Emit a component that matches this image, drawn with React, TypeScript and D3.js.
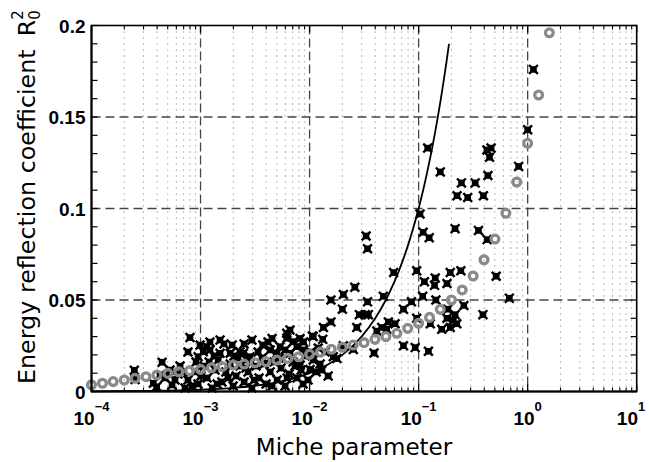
import React from "react";
import * as d3 from "d3";

// Gray circles (model): Miche parameter vs R0^2
const circleMiche = [
  1e-4, 1.26e-4, 1.58e-4, 2.0e-4, 2.51e-4, 3.16e-4, 3.98e-4, 5.01e-4, 6.31e-4, 7.94e-4,
  1e-3, 1.26e-3, 1.58e-3, 2.0e-3, 2.51e-3, 3.16e-3, 3.98e-3, 5.01e-3, 6.31e-3, 7.94e-3,
  1e-2, 1.26e-2, 1.58e-2, 2.0e-2, 2.51e-2, 3.16e-2, 3.98e-2, 5.01e-2, 6.31e-2, 7.94e-2,
  0.1, 0.126, 0.158, 0.2, 0.251, 0.316, 0.398, 0.501, 0.631, 0.794,
  1.0, 1.26, 1.58,
];
const circleR2 = [
  0.0036, 0.0045, 0.0054, 0.0063, 0.0072, 0.0081, 0.009, 0.0099, 0.0108, 0.0114,
  0.0121, 0.013, 0.0136, 0.0145, 0.015, 0.0157, 0.0163, 0.0172, 0.0181, 0.019,
  0.0203, 0.0215, 0.0231, 0.0242, 0.0254, 0.0267, 0.0285, 0.03, 0.0318, 0.0345,
  0.0373, 0.0405, 0.0449, 0.05, 0.0555, 0.0631, 0.072, 0.0833, 0.0974, 0.1145,
  0.1356, 0.162, 0.196,
];

// Solid curve
const curveMiche = [1e-4, 3e-4, 1e-3, 2e-3, 3e-3, 5e-3, 7e-3, 0.01, 0.015, 0.02, 0.03, 0.04, 0.05, 0.06, 0.07, 0.08, 0.09, 0.1, 0.11, 0.12, 0.13, 0.14, 0.15, 0.16, 0.17, 0.18, 0.19];
const curveR2 = [1e-4, 3e-4, 1e-3, 2e-3, 3e-3, 5e-3, 7e-3, 0.01, 0.015, 0.02, 0.03, 0.04, 0.05, 0.06, 0.07, 0.08, 0.09, 0.1, 0.11, 0.12, 0.13, 0.14, 0.15, 0.16, 0.17, 0.18, 0.19];

// Black measured points
const obsMiche = [
  1.13, 1.0, 0.121, 0.158, 0.423, 0.462, 0.447, 0.826, 0.247, 0.33,
  0.432, 0.225, 0.282, 0.393, 0.103, 0.216, 0.354, 0.11, 0.125, 0.425,
  0.033, 0.034, 0.059, 0.096, 0.195, 0.244, 0.113, 0.142, 0.14, 0.182,
  0.514, 0.026, 0.0204, 0.0475, 0.0157, 0.034, 0.086, 0.109, 0.144, 0.26,
  0.679, 0.389, 0.02, 0.0726, 0.0286, 0.0323, 0.0346, 0.185, 0.216, 0.182,
  0.208, 0.224, 0.195, 0.163, 0.096, 0.128, 0.0157, 0.0134, 0.0271, 0.0108,
  0.0132, 0.0088, 0.0459, 0.0528, 0.0608, 0.0414, 0.051, 0.0726, 0.093, 0.039,
  0.123, 0.0204, 0.0252, 0.0165, 0.0178, 0.0101, 0.0082,
  2.47e-4, 4.44e-4, 8.0e-4, 1.14e-3, 1.06e-3, 1.22e-3, 9.5e-4, 1.51e-3, 1.87e-3, 2.3e-3,
  2.47e-3, 2.84e-3, 2.65e-3, 3.72e-3, 4.35e-3, 5.0e-3, 5.36e-3, 6.18e-3, 6.62e-3, 6.18e-3,
  7.1e-3, 7.64e-3, 8.77e-3, 5.96e-3, 6.62e-3, 0.0106, 2.51e-4, 3.69e-4, 3.96e-4,
  4.72e-4, 5.48e-4, 6.22e-4, 7.21e-4, 7.67e-4, 8.91e-4, 9.48e-4, 1.08e-3, 1.15e-3, 1.28e-3,
  1.36e-3, 1.45e-3, 1.57e-3, 1.71e-3, 1.87e-3, 1.99e-3, 2.12e-3, 2.3e-3, 2.51e-3, 2.73e-3,
  2.96e-3, 3.23e-3, 3.44e-3, 3.66e-3, 3.99e-3, 4.35e-3, 4.72e-3, 5.04e-3, 5.48e-3, 5.96e-3,
  6.49e-3, 7.06e-3, 7.67e-3, 8.36e-3, 9.1e-3, 9.68e-3, 0.0108, 0.0115, 0.0125, 0.0139,
  0.0148, 1.33e-3, 1.64e-3, 3.37e-3, 2.21e-3, 4.16e-3, 9.1e-4, 6.49e-4, 5.25e-4, 7.67e-4,
  2.96e-3, 1.95e-3, 1.22e-3, 0.012,
  4.25e-4, 5.83e-4, 6.9e-4, 8.36e-4, 1.01e-3, 1.2e-3, 1.42e-3, 1.79e-3, 2.03e-3, 2.61e-3,
  3.1e-3, 3.83e-3, 4.53e-3, 5.25e-3, 6.22e-3, 7.36e-3, 8.71e-3, 0.0103, 0.013, 1.51e-3,
  2.51e-3, 9.9e-4, 4.53e-3, 8.18e-3,
];
const obsR2 = [
  0.176, 0.143, 0.133, 0.12, 0.132, 0.133, 0.128, 0.123, 0.114, 0.114,
  0.118, 0.107, 0.106, 0.107, 0.097, 0.089, 0.088, 0.087, 0.084, 0.083,
  0.085, 0.078, 0.065, 0.066, 0.065, 0.066, 0.06, 0.062, 0.058, 0.059,
  0.063, 0.057, 0.053, 0.052, 0.05, 0.049, 0.049, 0.052, 0.05, 0.047,
  0.051, 0.042, 0.045, 0.045, 0.042, 0.042, 0.042, 0.045, 0.042, 0.04,
  0.039, 0.037, 0.035, 0.034, 0.04, 0.037, 0.038, 0.035, 0.035, 0.03,
  0.0285, 0.027, 0.035, 0.038, 0.037, 0.033, 0.034, 0.025, 0.024, 0.021,
  0.022, 0.025, 0.023, 0.019, 0.018, 0.012, 0.0145,
  0.0116, 0.016, 0.0295, 0.0245, 0.0217, 0.0227, 0.019, 0.0209, 0.0209, 0.0217,
  0.0209, 0.019, 0.0172, 0.0254, 0.0227, 0.0209, 0.0245, 0.0318, 0.0336, 0.0291,
  0.0272, 0.0245, 0.0227, 0.0227, 0.0209, 0.0303, 0.0066, 0.0045, 0.0026,
  0.0074, 0.0036, 0.0096, 0.0019, 0.0063, 0.0107, 0.0041, 0.0139, 0.0074, 0.0019,
  0.0117, 0.0172, 0.0052, 0.0107, 0.015, 0.003, 0.0085, 0.0139, 0.0052, 0.0107,
  0.0019, 0.0139, 0.0074, 0.0183, 0.0041, 0.0107, 0.0161, 0.0063, 0.0128, 0.003,
  0.0096, 0.0161, 0.0074, 0.0117, 0.0194, 0.0063, 0.0172, 0.0107, 0.015, 0.0216,
  0.0085, 0.0194, 0.026, 0.0216, 0.0183, 0.027, 0.0161, 0.0139, 0.0117, 0.0216,
  0.0281, 0.0254, 0.027, 0.0238,
  0.009, 0.0063, 0.0107, 0.003, 0.0085, 0.0161, 0.0041, 0.0074, 0.0194, 0.0128,
  0.0063, 0.015, 0.003, 0.0183, 0.0074, 0.0139, 0.0041, 0.0216, 0.0117, 0.0281,
  0.026, 0.0254, 0.029, 0.029,
];

const yTicks = [0, 0.05, 0.1, 0.15, 0.2];
const yTickLabels = ["0", "0.05", "0.1", "0.15", "0.2"];
const xDecades = [-4, -3, -2, -1, 0, 1];

const W = 649;
const H = 462;
const L = 91.5;
const R = 636.7;
const T = 25.5;
const B = 391.5;

export default function App() {
  const x = d3.scaleLog().domain([1e-4, 10]).range([L, R]);
  const y = d3.scaleLinear().domain([0, 0.2]).range([B, T]);

  const minorX: number[] = [];
  xDecades.slice(0, -1).forEach((d) => {
    for (let k = 2; k <= 9; k++) minorX.push(k * Math.pow(10, d));
  });
  const majorX = xDecades.map((d) => Math.pow(10, d));
  const minorY = d3.range(0, 21).map((i) => i * 0.01);

  const line = d3
    .line<number>()
    .x((_, i) => x(curveMiche[i]))
    .y((_, i) => y(curveR2[i]))
    .curve(d3.curveMonotoneX);

  const fontTick = "'Liberation Sans', Arial, sans-serif";
  const fontLabel = "'DejaVu Sans', sans-serif";

  return (
    <svg width={W} height={H} style={{ display: "block", position: "absolute", left: 0, top: 0 }}>
      <rect x={0} y={0} width={W} height={H} fill="#fff" />
      {/* minor vertical grid */}
      {minorX.map((v, i) => (
        <line key={"mx" + i} x1={x(v)} x2={x(v)} y1={T} y2={B} stroke="#777" strokeWidth={1} strokeDasharray="1 5" />
      ))}
      {/* major vertical grid */}
      {majorX.slice(1, -1).map((v, i) => (
        <line key={"Mx" + i} x1={x(v)} x2={x(v)} y1={T} y2={B} stroke="#444" strokeWidth={1.3} strokeDasharray="9 4" />
      ))}
      {/* major horizontal grid */}
      {yTicks.slice(1, -1).map((v, i) => (
        <line key={"My" + i} x1={L} x2={R} y1={y(v)} y2={y(v)} stroke="#444" strokeWidth={1.3} strokeDasharray="9 5" />
      ))}

      {/* observations */}
      <g>
        {obsMiche.map((m, i) => (
          <g key={"o" + i} transform={`translate(${x(m)},${y(obsR2[i])})`}>
            <rect x={-3.3} y={-3.3} width={6.6} height={6.6} fill="#000" />
            <path d="M-4.4,-4.4L4.4,4.4M4.4,-4.4L-4.4,4.4" stroke="#000" strokeWidth={2.4} />
          </g>
        ))}
      </g>

      {/* theory curve */}
      <path d={line(curveMiche) || ""} fill="none" stroke="#000" strokeWidth={1.8} />

      {/* model circles */}
      {circleMiche.map((m, i) => (
        <circle key={"c" + i} cx={x(m)} cy={y(circleR2[i])} r={3.9} fill="none" stroke="#8a8a8a" strokeWidth={3.3} />
      ))}

      {/* axes box */}
      <rect x={L} y={T} width={R - L} height={B - T} fill="none" stroke="#000" strokeWidth={1.6} />
      <line x1={L} x2={L} y1={T} y2={B + 0.8} stroke="#000" strokeWidth={2} />
      <line x1={L} x2={R} y1={B} y2={B} stroke="#000" strokeWidth={2} />

      {/* y ticks */}
      {minorY.map((v, i) => (
        <g key={"yt" + i}>
          <line x1={L} x2={L + 6} y1={y(v)} y2={y(v)} stroke="#000" strokeWidth={1.2} />
          <line x1={R} x2={R - 6} y1={y(v)} y2={y(v)} stroke="#000" strokeWidth={1.2} />
        </g>
      ))}
      {/* x ticks */}
      {minorX.map((v, i) => (
        <g key={"xt" + i}>
          <line x1={x(v)} x2={x(v)} y1={B} y2={B - 4} stroke="#000" strokeWidth={1.1} />
          <line x1={x(v)} x2={x(v)} y1={T} y2={T + 4} stroke="#000" strokeWidth={1.1} />
        </g>
      ))}
      {majorX.map((v, i) => (
        <g key={"xT" + i}>
          <line x1={x(v)} x2={x(v)} y1={B} y2={B - 7} stroke="#000" strokeWidth={1.3} />
          <line x1={x(v)} x2={x(v)} y1={T} y2={T + 7} stroke="#000" strokeWidth={1.3} />
        </g>
      ))}

      {/* y tick labels */}
      {yTicks.map((v, i) => (
        <text key={"yl" + i} x={L - 6} y={y(v) + 7} textAnchor="end" fontFamily={fontTick} fontWeight="bold" fontSize={19} fill="#000">
          {yTickLabels[i]}
        </text>
      ))}
      {/* x tick labels */}
      {xDecades.map((d, i) => {
        const px = x(Math.pow(10, d));
        const cx = Math.min(px, W - 18);
        return (
          <text key={"xl" + i} x={cx} y={425} textAnchor="middle" fontFamily={fontTick} fontWeight="bold" fontSize={19} fill="#000">
            10
            <tspan fontSize={13} dy={-14}>{d < 0 ? "\u2212" + Math.abs(d) : String(d)}</tspan>
          </text>
        );
      })}

      {/* axis labels */}
      <text x={354} y={455} textAnchor="middle" fontFamily={fontLabel} fontSize={23} fill="#000">
        Miche parameter
      </text>
      <text transform="translate(35,384) rotate(-90)" fontFamily={fontLabel} fontSize={23.8} fill="#000">
        Energy reflection coefficient
        <tspan dx={13}>R</tspan>
        <tspan fontSize={15} dy={5}>0</tspan>
        <tspan fontSize={15} dx={-9.5} dy={-17}>2</tspan>
      </text>
    </svg>
  );
}
